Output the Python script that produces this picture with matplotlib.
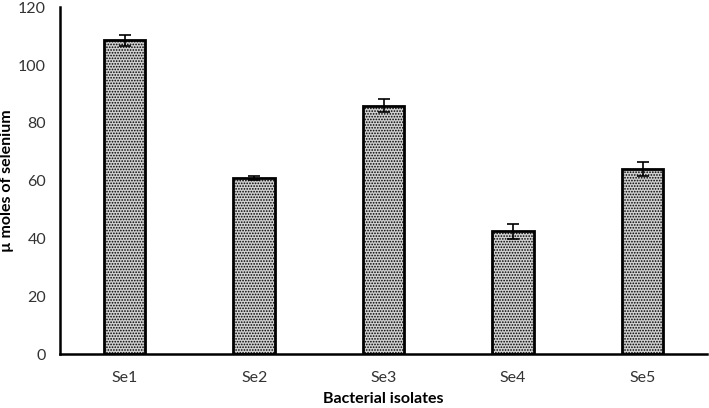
import matplotlib
matplotlib.use("Agg")
import matplotlib.pyplot as plt
import numpy as np

isolates = ["Se1", "Se2", "Se3", "Se4", "Se5"]
selenium = [108.6, 61.0, 86.0, 42.5, 64.0]
errors = [2.0, 0.7, 2.2, 2.6, 2.4]

plt.rcParams["font.family"] = ["Lato", "DejaVu Sans"]
plt.rcParams["hatch.linewidth"] = 0.8

fig = plt.figure(figsize=(7.09, 4.08), dpi=100)
ax = fig.add_axes([0.0846, 0.132, 0.913, 0.85])

x = np.arange(len(isolates))
ax.bar(x, selenium, width=0.32, color="#d0d0d0", edgecolor="black",
       linewidth=2, hatch="......", zorder=2)
ax.errorbar(x, selenium, yerr=errors, fmt="none", ecolor="black",
            elinewidth=1.2, capsize=4, capthick=1.2, zorder=3)

ax.set_xlim(-0.5, 4.5)
ax.set_ylim(0, 120)
ax.set_yticks(range(0, 121, 20))
ax.set_xticks(x)
ax.set_xticklabels(isolates)
ax.tick_params(axis="both", length=0, labelsize=11.5, colors="#333333")
ax.tick_params(axis="y", pad=10)
ax.tick_params(axis="x", pad=12)

for side in ["top", "right"]:
    ax.spines[side].set_visible(False)
ax.spines["left"].set_linewidth(1.8)
ax.spines["bottom"].set_linewidth(1.8)

ax.set_xlabel("Bacterial isolates", fontsize=11.5, fontweight="bold", labelpad=5)
ax.set_ylabel("µ moles of selenium", fontsize=11.5, fontweight="bold", labelpad=3)

fig.savefig("out.png", dpi=100)
